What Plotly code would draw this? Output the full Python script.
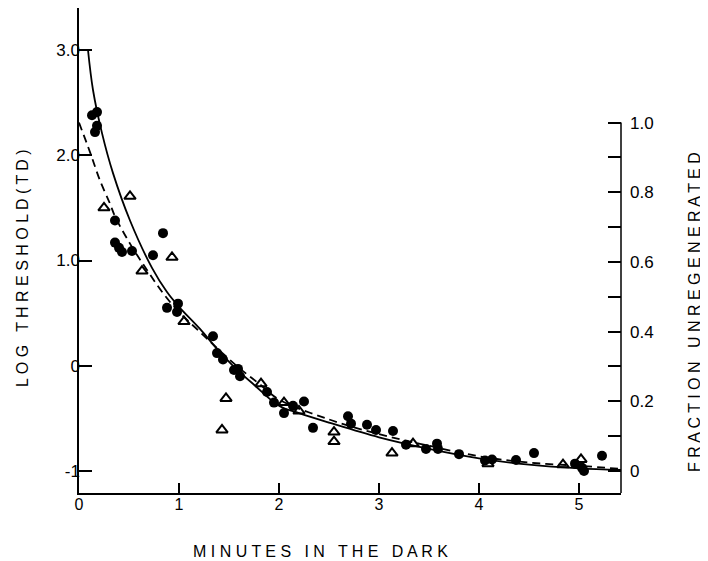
import plotly.graph_objects as go

# ---- data ----
circle_x = [0.13, 0.18, 0.18, 0.16, 0.36, 0.36, 0.40, 0.43, 0.53, 0.74, 0.84,
            0.88, 0.99, 0.98, 1.34, 1.38, 1.44, 1.55, 1.59, 1.61,
            1.88, 1.95, 2.05, 2.14, 2.25, 2.34, 2.69, 2.72, 2.88, 2.97, 3.14,
            3.27, 3.47, 3.58, 3.59, 3.80, 4.06, 4.13, 4.37, 4.55,
            4.96, 5.03, 5.05, 5.23]
circle_y = [2.38, 2.41, 2.28, 2.22, 1.38, 1.17, 1.12, 1.08, 1.09, 1.05, 1.26,
            0.55, 0.59, 0.51, 0.28, 0.12, 0.06, -0.04, -0.03, -0.10,
            -0.25, -0.35, -0.45, -0.38, -0.34, -0.59, -0.48, -0.55, -0.56, -0.61, -0.62,
            -0.75, -0.79, -0.74, -0.79, -0.84, -0.90, -0.89, -0.895, -0.83,
            -0.93, -0.97, -1.0, -0.855]

tri_x = [0.25, 0.51, 0.63, 0.93, 1.05, 1.43, 1.47, 1.82, 2.05, 2.20,
         2.55, 2.55, 3.13, 3.34, 4.09, 4.84, 5.02]
tri_y = [1.50, 1.61, 0.90, 1.03, 0.42, -0.61, -0.31, -0.17, -0.35, -0.43,
         -0.63, -0.72, -0.83, -0.74, -0.93, -0.94, -0.89]

solid_x = [0.09, 0.14, 0.23, 0.34, 0.51, 0.73, 0.88, 1.00, 1.21, 1.38, 1.55,
           1.75, 2.00, 2.20, 2.50, 3.00, 3.50, 4.00, 4.50, 5.00, 5.42]
solid_y = [3.00, 2.62, 2.21, 1.83, 1.38, 0.93, 0.70, 0.56, 0.35, 0.16, -0.01,
           -0.18, -0.38, -0.45, -0.54, -0.68, -0.79, -0.88, -0.94, -0.975, -0.99]

dash_x = [0.0, 0.11, 0.21, 0.31, 0.36, 0.51, 0.68, 0.84, 1.00, 1.20, 1.40,
          1.60, 1.80, 2.00, 2.50, 3.00, 3.50, 4.00, 4.50, 5.00, 5.42]
dash_y = [2.31, 2.03, 1.76, 1.54, 1.42, 1.16, 0.91, 0.69, 0.51, 0.33, 0.15,
          -0.02, -0.17, -0.32, -0.51, -0.65, -0.76, -0.86, -0.92, -0.95, -0.98]

x_ticks = [0, 1, 2, 3, 4, 5]
x_labels = ["0", "1", "2", "3", "4", "5"]
left_ticks = [-1, 0, 1, 2, 3]
left_labels = ["-1", "0", "1.0", "2.0", "3.0"]
right_ticks = [0, 0.1, 0.2, 0.3, 0.4, 0.5, 0.6, 0.7, 0.8, 0.9, 1.0]
right_labels = ["0", "", "0.2", "", "0.4", "", "0.6", "", "0.8", "", "1.0"]

x_title = "M I N U T E S   I N   T H E   D A R K"
left_title = "L O G   T H R E S H O L D ( T D )"
right_title = "F R A C T I O N   U N R E G E N E R A T E D"

# scales
y_min, y_max = -1.209, 3.399
frac_per_log = 3.31  # fraction 1.0 corresponds to log threshold 2.31
y2_min, y2_max = (y_min + 1) / frac_per_log, (y_max + 1) / frac_per_log

FONT = "Liberation Sans, Arial, sans-serif"

# page body has an 8px margin: figure is 700x553 placed at (8, 8)
PLOT_L, PLOT_R, PLOT_T, PLOT_B = 79, 621, 8, 493  # page pixels of the plot area
PW, PH = PLOT_R - PLOT_L, PLOT_B - PLOT_T

fig = go.Figure()
fig.add_trace(go.Scatter(x=solid_x, y=solid_y, mode="lines", line_shape="spline",
                         line=dict(color="black", width=1.8), showlegend=False))
fig.add_trace(go.Scatter(x=dash_x, y=dash_y, mode="lines", line_shape="spline",
                         line=dict(color="black", width=1.8, dash="8px,5px"), showlegend=False))
fig.add_trace(go.Scatter(x=circle_x, y=circle_y, mode="markers",
                         marker=dict(symbol="circle", size=10, color="black"), showlegend=False))
fig.add_trace(go.Scatter(x=tri_x, y=tri_y, mode="markers",
                         marker=dict(symbol="triangle-up-open", size=10, color="black",
                                     line=dict(width=2, color="black")), showlegend=False))
# invisible trace to activate the right axis
fig.add_trace(go.Scatter(x=[0], y=[0], yaxis="y2", mode="markers",
                         marker=dict(opacity=0), showlegend=False, hoverinfo="skip"))

fig.update_layout(
    width=700, height=553,
    margin=dict(l=PLOT_L - 8, r=708 - PLOT_R, t=PLOT_T - 8, b=561 - PLOT_B),
    paper_bgcolor="white", plot_bgcolor="white",
    font=dict(family=FONT, color="black", size=17),
    xaxis=dict(range=[0, 5.42], tickvals=x_ticks, ticktext=x_labels,
               showline=True, linecolor="black", linewidth=1.5,
               ticks="inside", ticklen=10, tickwidth=1.5, tickcolor="black",
               showgrid=False, zeroline=False, tickfont=dict(size=16),
               ticklabelstandoff=-4),
    yaxis=dict(range=[y_min, y_max], tickvals=left_ticks, ticktext=left_labels,
               showline=True, linecolor="black", linewidth=1.5,
               ticks="inside", ticklen=13, tickwidth=1.5, tickcolor="black",
               showgrid=False, zeroline=False, tickfont=dict(size=17),
               ticklabelstandoff=-6),
    yaxis2=dict(range=[y2_min, y2_max], overlaying="y", side="right",
                tickvals=right_ticks, ticktext=right_labels,
                showline=False, ticks="inside", ticklen=13, tickwidth=1.5,
                tickcolor="black", showgrid=False, zeroline=False,
                ticklabelstandoff=8, tickfont=dict(size=17)),
    shapes=[dict(type="line", xref="paper", yref="y2", x0=1, x1=1,
                 y0=y2_min, y1=1.0, line=dict(color="black", width=1.5))],
    annotations=[
        dict(text=x_title, xref="paper", yref="paper", x=(320 - PLOT_L) / PW,
             y=-(551 - PLOT_B) / PH,
             showarrow=False, font=dict(size=16), xanchor="center", yanchor="middle"),
        dict(text=left_title, xref="paper", yref="paper", x=(22 - PLOT_L) / PW,
             y=(PLOT_B - 268) / PH, showarrow=False, textangle=-90, font=dict(size=16),
             xanchor="center", yanchor="middle"),
        dict(text=right_title, xref="paper", yref="paper", x=(694 - PLOT_L) / PW,
             y=(PLOT_B - 312) / PH, showarrow=False, textangle=-90, font=dict(size=16),
             xanchor="center", yanchor="middle"),
    ],
)

fig.write_html("out.html")
